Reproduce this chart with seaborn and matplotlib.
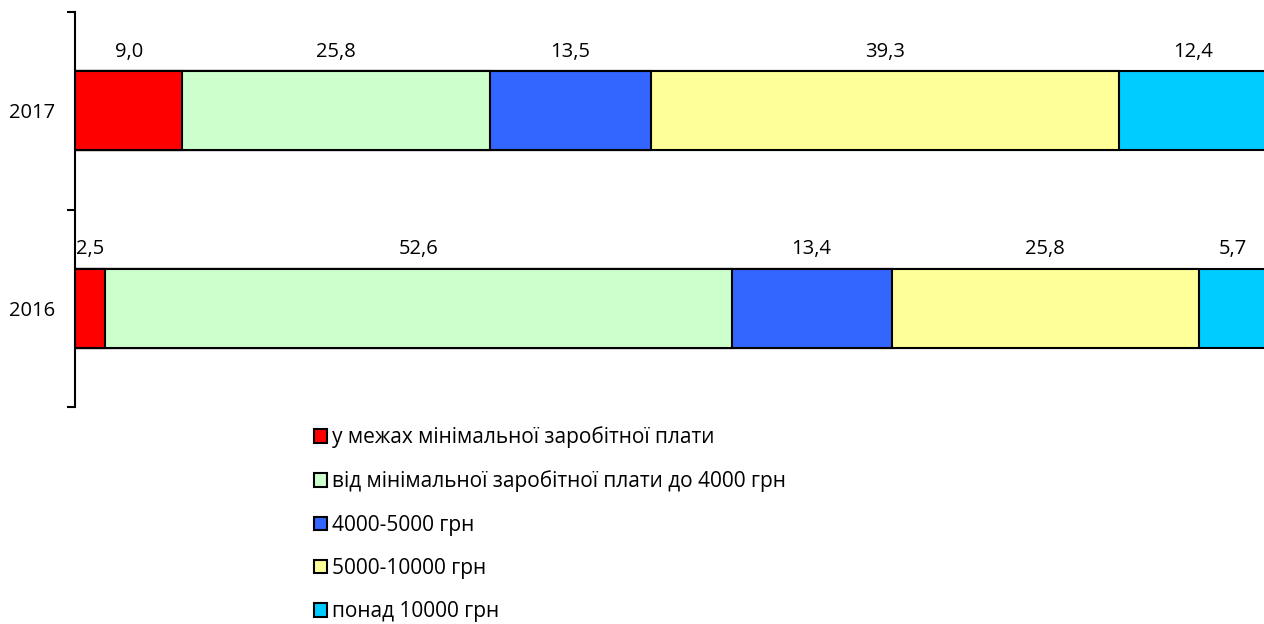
import pandas as pd
import numpy as np
import matplotlib
matplotlib.use("Agg")
import matplotlib.pyplot as plt
import seaborn as sns
from matplotlib.patches import Patch

years = ["2017", "2016"]
categories = ["у межах мінімальної заробітної плати",
              "від мінімальної заробітної плати до 4000 грн",
              "4000-5000 грн",
              "5000-10000 грн",
              "понад 10000 грн"]
values_2017 = [9.0, 25.8, 13.5, 39.3, 12.4]
values_2016 = [2.5, 52.6, 13.4, 25.8, 5.7]
colors = ["#FF0000", "#CCFFCC", "#3366FF", "#FFFF99", "#00CCFF"]

sns.set_style("white")
plt.rcParams['font.family'] = ['Open Sans', 'DejaVu Sans']
plt.rcParams['text.color'] = 'black'
plt.rcParams['ytick.color'] = 'black'
FS = 14.5

df = pd.DataFrame([values_2017, values_2016], index=years, columns=categories)
cum = df.cumsum(axis=1)

fig = plt.figure(figsize=(12.64, 6.24), dpi=100)
ax = fig.add_axes([75/1264, 1-407/624, 1192/1264, 395/624])

# draw cumulative bars from the longest to the shortest so segments stack
for i in range(len(categories)-1, -1, -1):
    d = pd.DataFrame({"year": years, "val": cum.iloc[:, i].values})
    sns.barplot(data=d, x="val", y="year", order=years, orient="h",
                color=colors[i], saturation=1, width=0.4,
                edgecolor="black", linewidth=1.5, ax=ax)

# value labels above segments
for r, yr in enumerate(years):
    left = 0
    for i, c in enumerate(categories):
        v = df.loc[yr, c]
        ax.text(left + v/2, r - 0.3, f"{v:.1f}".replace(".", ","),
                ha="center", va="center", fontsize=FS, color="black")
        left += v

ax.set_xlim(0, 100)
ax.set_ylim(1.5, -0.5)
ax.set_xlabel("")
ax.set_ylabel("")
ax.set_xticks([])
for s in ["top", "right", "bottom"]:
    ax.spines[s].set_visible(False)
ax.spines["left"].set_linewidth(1.5)
ax.spines["left"].set_color("black")

ax.set_yticks([-0.5, 0.5, 1.5])
ax.set_yticklabels(["", "", ""])
ax.set_yticks([0, 1], minor=True)
ax.set_yticklabels(years, minor=True, fontsize=FS, color="black")
ax.tick_params(axis="y", which="major", left=True, length=6, width=1.5, color="black", direction="out")
ax.tick_params(axis="y", which="minor", left=True, length=0, pad=14)

handles = [Patch(facecolor=colors[i], edgecolor="black", linewidth=1.5, label=categories[i])
           for i in range(len(categories))]
leg = fig.legend(handles=handles, loc="upper left", bbox_to_anchor=(306/1264, 1-418/624),
                 frameon=False, fontsize=15, labelspacing=1.07, handlelength=0.61,
                 handleheight=0.61, handletextpad=0.24, borderaxespad=0)
for t in leg.get_texts():
    t.set_color("black")

fig.savefig("out.png", dpi=100)
